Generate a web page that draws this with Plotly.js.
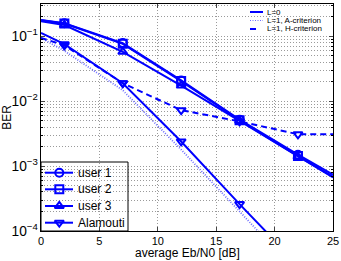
<!DOCTYPE html>
<html>
<head>
<meta charset="utf-8">
<script src="https://cdn.plot.ly/plotly-3.0.1.min.js"></script>
<style>html,body{margin:0;padding:0;background:#fff;}#chart{width:341px;height:261px;}</style>
</head>
<body>
<div id="chart"></div>
<script>
// ---- data ----
const ebn0 = [0, 2, 7, 12, 17, 22, 25];           // average Eb/N0 [dB]
const user1 = [0.180, 0.160, 0.079, 0.0210, 0.0052, 0.00150, 0.00074];
const user2 = [0.178, 0.158, 0.077, 0.0205, 0.0051, 0.00143, 0.00069];
const user3 = [0.172, 0.150, 0.058, 0.0175, 0.0050, 0.00140, 0.00067];
const alamoutiL0 = [0.113, 0.076, 0.019, 0.0024, 0.00026, 0.00003, null];
const alamoutiA  = [0.095, 0.060, 0.0148, 0.0018, 0.00020, 0.000022, null];
const alamoutiH  = [0.095, 0.073, 0.019, 0.0073, 0.0049, 0.0031, 0.0031];
const seriesNames = ['user 1', 'user 2', 'user 3', 'Alamouti'];
const styleNames = ['L=0', 'L=1, A-criterion', 'L=1, H-criterion'];
const xTicks = [0, 5, 10, 15, 20, 25];
const xTitle = 'average Eb/N0 [dB]';
const yTitle = 'BER';

const BLUE = '#0000ff';
const LIGHT = '#6e6eff';
const FONT = 'Liberation Sans, Arial, Helvetica, sans-serif';
const mOpacity = ebn0.map((v, i) => (i === 0 || i === ebn0.length - 1) ? 0 : 1);
const symbols = ['circle-open', 'square-open', 'triangle-up-open', 'triangle-down-open'];

function curve(y, sym, dash, color, width, withMarkers) {
  return {
    x: ebn0, y: y, type: 'scatter',
    mode: withMarkers ? 'lines+markers' : 'lines',
    line: {color: color, width: width, dash: dash},
    marker: {symbol: sym, size: 8, color: color, opacity: mOpacity, line: {color: color, width: 2}},
    showlegend: false, hoverinfo: 'skip'
  };
}

const traces = [
  curve(alamoutiA, 'triangle-down-open', '1px,1.5px', LIGHT, 1.8, false),
  curve(alamoutiH, 'triangle-down-open', '6px,4px', BLUE, 2, true),
  curve(alamoutiL0, 'triangle-down-open', 'solid', BLUE, 2, true),
  curve(user3, 'triangle-up-open', 'solid', BLUE, 2, true),
  curve(user2, 'square-open', 'solid', BLUE, 2, true),
  curve(user1, 'circle-open', 'solid', BLUE, 2, true)
];

// ---- layout helpers: pixel -> paper fraction of the plot area ----
const PL = 41, PW = 292, PB = 231, PH = 227;
const px2x = p => (p - PL) / PW;
const py2y = p => (PB - p) / PH;

// bottom-left key (user / Alamouti), drawn on an overlay paper-like axis
const keyRows = [172.7, 189.3, 206, 222.7];
const annotations = [{
  xref: 'paper', yref: 'paper', x: 0.5, y: py2y(253),
  xanchor: 'center', yanchor: 'middle', showarrow: false, text: xTitle,
  font: {family: FONT, size: 12, color: '#000'}
}];
seriesNames.forEach((nm, i) => {
  const yy = py2y(keyRows[i]);
  traces.push({
    x: [px2x(45), px2x(73)], y: [yy, yy], xaxis: 'x2', yaxis: 'y2',
    type: 'scatter', mode: 'lines', line: {color: BLUE, width: 2},
    showlegend: false, hoverinfo: 'skip'
  });
  traces.push({
    x: [px2x(59.3)], y: [yy], xaxis: 'x2', yaxis: 'y2',
    type: 'scatter', mode: 'markers',
    marker: {symbol: symbols[i], size: 8, color: BLUE, line: {color: BLUE, width: 2}},
    showlegend: false, hoverinfo: 'skip'
  });
  annotations.push({
    xref: 'paper', yref: 'paper', x: px2x(76), y: yy,
    xanchor: 'left', yanchor: 'middle', showarrow: false, text: nm,
    font: {family: FONT, size: 12, color: '#000'}
  });
});

// top-right style key
const rowsY = [12, 20.5, 29];
const styleLines = [
  {color: BLUE, width: 2, dash: 'solid'},
  {color: LIGHT, width: 1.2, dash: '1px,1.5px'},
  {color: BLUE, width: 2, dash: '6px,7px'}
];
const shapes = [
  {type: 'rect', xref: 'paper', yref: 'paper', layer: 'below',
   x0: px2x(246), x1: 1, y0: py2y(36), y1: py2y(5),
   fillcolor: '#ffffff', line: {width: 0}},
  {type: 'rect', xref: 'paper', yref: 'paper', layer: 'below',
   x0: 0, x1: px2x(128), y0: 0, y1: py2y(162),
   fillcolor: '#ffffff', line: {width: 0}},
  {type: 'rect', xref: 'paper', yref: 'paper', layer: 'above',
   x0: 0, x1: px2x(128), y0: 0, y1: py2y(162),
   fillcolor: 'rgba(0,0,0,0)', line: {color: '#000', width: 1}}
];
styleNames.forEach((nm, i) => {
  shapes.push({
    type: 'line', xref: 'paper', yref: 'paper', layer: 'above',
    x0: px2x(250), x1: px2x(263), y0: py2y(rowsY[i]), y1: py2y(rowsY[i]),
    line: styleLines[i]
  });
  annotations.push({
    xref: 'paper', yref: 'paper', x: px2x(265), y: py2y(rowsY[i]),
    xanchor: 'left', yanchor: 'middle', showarrow: false, text: nm,
    font: {family: FONT, size: 8, color: '#000'}
  });
});

const GRID = '#9a9a9a';
const layout = {
  width: 341, height: 261,
  margin: {l: PL, r: 341 - PL - PW, t: PB - PH, b: 261 - PB},
  paper_bgcolor: '#fff', plot_bgcolor: '#fff',
  font: {family: FONT, size: 11, color: '#000'},
  showlegend: false,
  xaxis: {
    range: [0, 25], tickvals: xTicks, ticks: 'inside', ticklen: 4,
    showline: true, linecolor: '#000', linewidth: 1, mirror: 'ticks',
    showgrid: true, gridcolor: GRID, griddash: '1px,2px', gridwidth: 1,
    zeroline: false, tickfont: {size: 11},
    automargin: false
  },
  yaxis: {
    type: 'log', range: [-4, -0.5], dtick: 1, exponentformat: 'power',
    ticks: 'inside', ticklen: 4,
    showline: true, linecolor: '#000', linewidth: 1, mirror: 'ticks',
    showgrid: true, gridcolor: GRID, griddash: '1px,2px', gridwidth: 1,
    zeroline: false, tickfont: {size: 11},
    minor: {dtick: 'D1', ticks: 'inside', ticklen: 2, tickcolor: '#000',
            showgrid: true, gridcolor: GRID, griddash: '1px,2px', gridwidth: 1},
    title: {text: yTitle, font: {size: 12}, standoff: 2},
    automargin: false
  },
  xaxis2: {overlaying: 'x', range: [0, 1], visible: false, fixedrange: true},
  yaxis2: {overlaying: 'y', range: [0, 1], visible: false, fixedrange: true},
  shapes: shapes,
  annotations: annotations
};

Plotly.newPlot('chart', traces, layout, {displayModeBar: false, staticPlot: true});
</script>
</body>
</html>
